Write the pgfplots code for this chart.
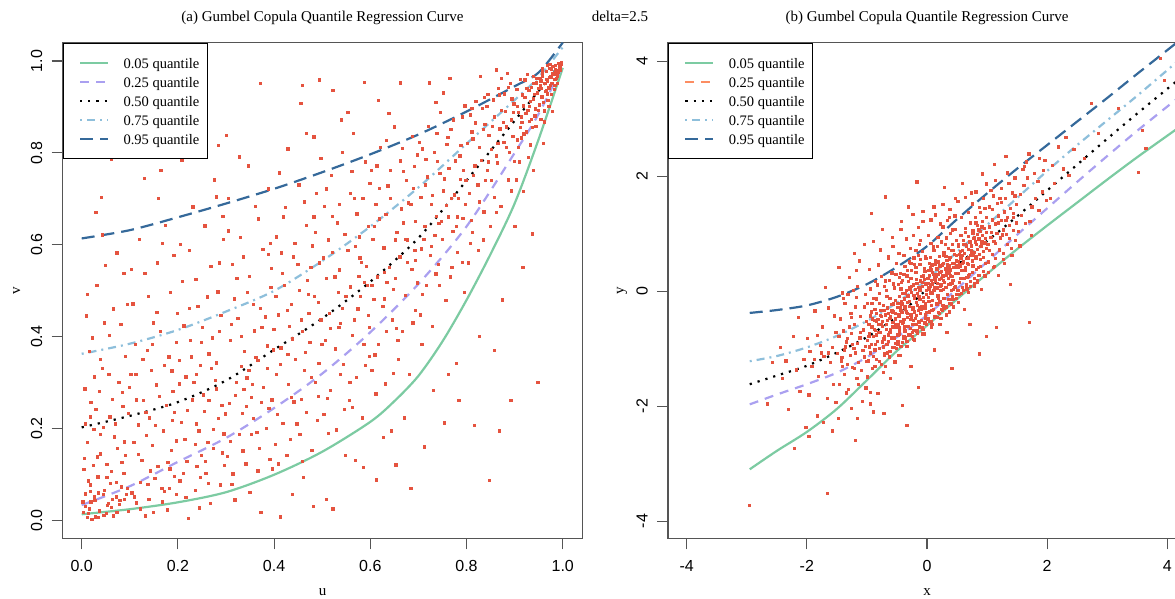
\documentclass[border=0pt]{standalone}
\usepackage{fontspec}
\setmainfont{Liberation Serif}
\newfontfamily\sansf{Liberation Sans}
\usepackage{pgfplots}
\pgfplotsset{compat=1.18}
\definecolor{cgreen}{HTML}{7CCBA2}
\definecolor{clav}{HTML}{AAA0F0}
\definecolor{cltblue}{HTML}{8EBFDB}
\definecolor{cdkblue}{HTML}{35699A}
\definecolor{corange}{HTML}{FC8D62}
\definecolor{cred}{HTML}{E5533F}
\definecolor{framegray}{HTML}{555555}
\newcommand\tfs{\fontsize{15}{18}\selectfont}
\pgfplotsset{
  qaxis/.style={
    scale only axis,
    axis line style={draw=framegray, line width=1.1pt},
    tick style={draw=framegray, line width=1.1pt},
    tick align=outside, tick pos=left, major tick length=11pt,
    tick label style={font=\sansf\fontsize{16}{18}\selectfont},
    xticklabel style={anchor=center}, xticklabel shift=16.7pt,
    yticklabel style={rotate=90, anchor=center}, yticklabel shift=15pt,
    label style={font=\tfs},
    xlabel style={at={(axis description cs:0.5,0)}, anchor=center, yshift=-53.4pt},
    ylabel style={at={(axis description cs:0,0.5)}, anchor=center, yshift=46pt},
    title style={at={(0.5,1)}, anchor=center, yshift=18.7pt, font=\tfs},
    legend cell align=left,
    legend style={at={(0,1)}, anchor=north west, draw=black, line width=0.9pt, fill=white,
      font=\fontsize{14.5}{17}\selectfont, inner xsep=8pt, inner ysep=12pt,
      row sep=4pt, column sep=14.4pt,
      nodes={inner sep=0pt, text height=13.5pt, text depth=1.5pt}},
    legend image code/.code={\path (0pt,0pt); \draw[#1] (7.8pt,0pt) -- (35.8pt,0pt);},
  },
  pts/.style={only marks, mark=square*, mark size=1.15pt, color=cred, forget plot},
  q05/.style={cgreen, line width=2.2pt, solid},
  q25/.style={clav, line width=2.2pt, dash pattern=on 9pt off 7pt},
  q25o/.style={corange, line width=2.2pt, dash pattern=on 9pt off 7pt},
  q50/.style={black, line width=2.2pt, dash pattern=on 2.2pt off 6pt},
  q75/.style={cltblue, line width=2.2pt, dash pattern=on 2pt off 5pt on 8pt off 5pt},
  q95/.style={cdkblue, line width=2.2pt, dash pattern=on 13pt off 7pt},
}
\begin{document}
\begin{tikzpicture}
\path[use as bounding box] (0pt,0pt) rectangle (1175pt,598pt);
\node[font=\tfs] at (620pt,582pt) {delta=2.5};
\begin{axis}[qaxis, at={(62.7pt,59.7pt)}, anchor=south west,
  width=519.6pt, height=495.6pt,
  xmin=-0.0395, xmax=1.0407, ymin=-0.0383, ymax=1.0398,
  xtick={0,0.2,0.4,0.6,0.8,1}, xticklabels={0.0,0.2,0.4,0.6,0.8,1.0},
  ytick={0,0.2,0.4,0.6,0.8,1}, yticklabels={0.0,0.2,0.4,0.6,0.8,1.0},
  xlabel={u}, ylabel={v},
  title={(a) Gumbel Copula Quantile Regression Curve}]
\addlegendimage{q05}
\addlegendimage{q25}
\addlegendimage{q50}
\addlegendimage{q75}
\addlegendimage{q95}
\addplot[pts] table {
0.012 0.008
0.046 0.012
0.021 0.003
0.008 0.031
0.027 0.044
0.055 0.038
0.071 0.052
0.015 0.026
0.089 0.047
0.034 0.061
0.062 0.029
0.004 0.112
0.018 0.078
0.039 0.146
0.052 0.094
0.067 0.183
0.083 0.127
0.095 0.071
0.025 0.199
0.074 0.158
0.047 0.066
0.011 0.171
0.006 0.287
0.029 0.243
0.043 0.331
0.058 0.226
0.077 0.302
0.091 0.358
0.016 0.369
0.064 0.264
0.085 0.249
0.036 0.281
0.009 0.446
0.031 0.512
0.057 0.404
0.073 0.583
0.094 0.471
0.022 0.398
0.049 0.556
0.081 0.427
0.041 0.703
0.061 0.786
0.003 0.018
0.019 0.041
0.028 0.009
0.037 0.022
0.044 0.057
0.007 0.059
0.013 0.087
0.024 0.121
0.033 0.096
0.002 0.041
0.051 0.017
0.059 0.081
0.066 0.011
0.078 0.036
0.087 0.104
0.097 0.021
0.005 0.136
0.038 0.188
0.017 0.226
0.069 0.211
0.014 0.016
0.053 0.033
0.079 0.044
0.092 0.058
0.026 0.052
0.061 0.107
0.032 0.139
0.088 0.172
0.045 0.203
0.071 0.084
0.019 0.258
0.056 0.318
0.084 0.279
0.038 0.351
0.097 0.234
0.011 0.493
0.066 0.461
0.042 0.622
0.087 0.539
0.029 0.671
0.132 0.011
0.178 0.024
0.104 0.061
0.121 0.083
0.139 0.047
0.152 0.092
0.166 0.071
0.183 0.113
0.197 0.058
0.114 0.039
0.108 0.171
0.125 0.132
0.141 0.224
0.158 0.118
0.169 0.196
0.186 0.153
0.193 0.236
0.117 0.209
0.147 0.164
0.176 0.251
0.102 0.318
0.128 0.262
0.136 0.371
0.155 0.296
0.172 0.339
0.189 0.281
0.111 0.384
0.163 0.412
0.181 0.357
0.144 0.327
0.106 0.472
0.131 0.538
0.149 0.431
0.168 0.604
0.184 0.497
0.199 0.452
0.119 0.613
0.157 0.561
0.123 0.793
0.164 0.763
0.130 0.745
0.148 0.019
0.109 0.052
0.137 0.079
0.171 0.064
0.192 0.097
0.118 0.144
0.153 0.207
0.179 0.128
0.134 0.186
0.196 0.174
0.113 0.263
0.146 0.384
0.161 0.271
0.187 0.326
0.127 0.351
0.103 0.547
0.138 0.489
0.174 0.643
0.191 0.577
0.159 0.702
0.221 0.006
0.267 0.038
0.204 0.087
0.218 0.129
0.236 0.066
0.249 0.142
0.258 0.103
0.273 0.158
0.288 0.078
0.296 0.121
0.207 0.214
0.214 0.178
0.229 0.263
0.243 0.196
0.255 0.238
0.262 0.171
0.279 0.287
0.284 0.223
0.291 0.252
0.233 0.302
0.202 0.349
0.226 0.392
0.238 0.318
0.251 0.421
0.264 0.363
0.277 0.306
0.289 0.447
0.212 0.424
0.246 0.338
0.271 0.398
0.209 0.521
0.224 0.588
0.241 0.467
0.256 0.642
0.268 0.553
0.283 0.498
0.294 0.612
0.231 0.683
0.208 0.785
0.280 0.705
0.284 0.817
0.244 0.028
0.211 0.103
0.239 0.118
0.263 0.081
0.292 0.148
0.219 0.241
0.252 0.274
0.274 0.199
0.298 0.233
0.236 0.166
0.216 0.313
0.249 0.389
0.269 0.331
0.286 0.412
0.228 0.357
0.205 0.602
0.237 0.526
0.261 0.487
0.293 0.663
0.275 0.742
0.318 0.046
0.372 0.019
0.303 0.141
0.314 0.102
0.327 0.188
0.341 0.124
0.356 0.223
0.369 0.157
0.383 0.201
0.396 0.113
0.306 0.256
0.321 0.301
0.333 0.234
0.347 0.327
0.352 0.268
0.366 0.349
0.378 0.291
0.389 0.244
0.398 0.372
0.337 0.286
0.309 0.392
0.324 0.441
0.338 0.368
0.344 0.497
0.359 0.413
0.371 0.462
0.385 0.381
0.393 0.508
0.317 0.483
0.362 0.356
0.301 0.839
0.313 0.558
0.329 0.617
0.348 0.532
0.361 0.684
0.376 0.591
0.387 0.722
0.394 0.549
0.327 0.792
0.371 0.951
0.349 0.062
0.308 0.173
0.335 0.152
0.364 0.192
0.391 0.134
0.319 0.273
0.343 0.311
0.373 0.258
0.386 0.331
0.354 0.297
0.311 0.427
0.332 0.401
0.357 0.471
0.381 0.444
0.399 0.417
0.304 0.631
0.336 0.574
0.367 0.657
0.392 0.603
0.346 0.772
0.413 0.009
0.437 0.058
0.481 0.031
0.402 0.167
0.418 0.212
0.426 0.143
0.441 0.259
0.453 0.188
0.467 0.236
0.478 0.154
0.492 0.271
0.405 0.318
0.414 0.376
0.429 0.297
0.444 0.351
0.458 0.412
0.463 0.328
0.474 0.389
0.486 0.302
0.497 0.437
0.432 0.423
0.408 0.448
0.421 0.512
0.436 0.471
0.449 0.558
0.457 0.437
0.469 0.523
0.483 0.489
0.494 0.561
0.417 0.539
0.472 0.452
0.404 0.618
0.423 0.682
0.439 0.574
0.451 0.731
0.466 0.643
0.479 0.598
0.488 0.712
0.411 0.757
0.459 0.948
0.494 0.959
0.455 0.908
0.466 0.843
0.482 0.835
0.461 0.094
0.407 0.231
0.434 0.178
0.456 0.264
0.489 0.218
0.412 0.341
0.438 0.396
0.465 0.367
0.477 0.312
0.499 0.384
0.403 0.488
0.427 0.458
0.452 0.501
0.476 0.551
0.491 0.476
0.419 0.661
0.443 0.603
0.462 0.694
0.486 0.627
0.428 0.809
0.509 0.047
0.522 0.026
0.568 0.131
0.585 0.117
0.503 0.231
0.517 0.284
0.529 0.198
0.544 0.341
0.556 0.262
0.571 0.312
0.583 0.224
0.597 0.358
0.506 0.392
0.514 0.451
0.527 0.374
0.538 0.429
0.549 0.488
0.562 0.403
0.574 0.461
0.586 0.384
0.593 0.512
0.533 0.497
0.508 0.527
0.521 0.584
0.535 0.546
0.547 0.623
0.558 0.509
0.569 0.597
0.581 0.563
0.595 0.641
0.512 0.611
0.576 0.532
0.504 0.684
0.519 0.751
0.531 0.648
0.542 0.802
0.558 0.713
0.572 0.668
0.589 0.781
0.599 0.734
0.522 0.937
0.553 0.889
0.587 0.954
0.548 0.143
0.511 0.267
0.537 0.318
0.563 0.247
0.589 0.339
0.516 0.418
0.541 0.462
0.566 0.437
0.579 0.488
0.598 0.421
0.502 0.572
0.526 0.531
0.553 0.589
0.577 0.618
0.591 0.553
0.509 0.722
0.536 0.688
0.561 0.761
0.584 0.701
0.565 0.843
0.612 0.089
0.627 0.181
0.653 0.122
0.684 0.071
0.671 0.224
0.603 0.327
0.616 0.384
0.631 0.298
0.645 0.437
0.658 0.352
0.667 0.412
0.681 0.319
0.694 0.458
0.607 0.482
0.614 0.531
0.626 0.467
0.639 0.552
0.648 0.503
0.661 0.574
0.673 0.491
0.686 0.547
0.692 0.588
0.634 0.519
0.605 0.612
0.619 0.657
0.628 0.594
0.642 0.701
0.655 0.628
0.664 0.679
0.677 0.611
0.689 0.724
0.611 0.689
0.668 0.648
0.602 0.762
0.621 0.812
0.636 0.729
0.649 0.857
0.662 0.783
0.675 0.741
0.687 0.836
0.698 0.796
0.617 0.914
0.662 0.953
0.643 0.196
0.609 0.361
0.633 0.412
0.657 0.392
0.688 0.431
0.603 0.512
0.629 0.541
0.652 0.527
0.676 0.562
0.697 0.518
0.608 0.641
0.632 0.667
0.651 0.611
0.679 0.692
0.694 0.652
0.613 0.772
0.641 0.763
0.666 0.811
0.691 0.771
0.638 0.887
0.712 0.161
0.731 0.284
0.753 0.213
0.778 0.342
0.784 0.262
0.703 0.448
0.716 0.512
0.728 0.423
0.741 0.558
0.757 0.479
0.766 0.531
0.781 0.584
0.795 0.497
0.706 0.592
0.713 0.641
0.724 0.578
0.737 0.662
0.749 0.613
0.758 0.687
0.771 0.629
0.783 0.701
0.792 0.658
0.734 0.621
0.705 0.703
0.718 0.748
0.727 0.689
0.739 0.782
0.752 0.718
0.763 0.767
0.774 0.709
0.786 0.794
0.798 0.741
0.744 0.756
0.702 0.823
0.721 0.858
0.733 0.801
0.746 0.889
0.761 0.834
0.773 0.872
0.788 0.817
0.796 0.903
0.722 0.953
0.765 0.962
0.762 0.318
0.708 0.492
0.736 0.537
0.769 0.552
0.791 0.563
0.711 0.612
0.742 0.647
0.762 0.661
0.779 0.641
0.797 0.689
0.714 0.731
0.729 0.708
0.753 0.744
0.777 0.783
0.793 0.762
0.708 0.809
0.738 0.843
0.767 0.851
0.791 0.879
0.752 0.931
0.816 0.207
0.847 0.088
0.868 0.196
0.892 0.262
0.827 0.402
0.874 0.481
0.803 0.561
0.812 0.627
0.824 0.589
0.836 0.672
0.849 0.641
0.858 0.703
0.871 0.684
0.887 0.742
0.806 0.713
0.814 0.752
0.823 0.731
0.831 0.784
0.843 0.763
0.852 0.808
0.864 0.779
0.877 0.823
0.889 0.801
0.896 0.837
0.802 0.821
0.811 0.846
0.826 0.812
0.838 0.862
0.846 0.838
0.857 0.879
0.869 0.853
0.881 0.891
0.893 0.872
0.898 0.907
0.807 0.883
0.819 0.912
0.833 0.897
0.844 0.928
0.856 0.916
0.866 0.941
0.879 0.929
0.891 0.952
0.828 0.967
0.861 0.981
0.884 0.973
0.858 0.371
0.809 0.653
0.834 0.611
0.862 0.671
0.893 0.718
0.817 0.772
0.839 0.741
0.861 0.794
0.882 0.813
0.899 0.782
0.813 0.831
0.834 0.851
0.853 0.858
0.876 0.867
0.897 0.889
0.811 0.897
0.837 0.921
0.868 0.927
0.886 0.943
0.872 0.962
0.948 0.302
0.917 0.551
0.936 0.624
0.903 0.742
0.907 0.812
0.911 0.856
0.914 0.879
0.918 0.903
0.921 0.921
0.924 0.846
0.927 0.893
0.929 0.937
0.932 0.912
0.935 0.874
0.938 0.951
0.941 0.928
0.943 0.896
0.946 0.962
0.949 0.941
0.904 0.938
0.912 0.961
0.926 0.972
0.909 0.781
0.933 0.818
0.944 0.858
0.951 0.905
0.953 0.947
0.956 0.922
0.958 0.968
0.961 0.951
0.963 0.934
0.966 0.978
0.968 0.957
0.971 0.942
0.973 0.985
0.975 0.966
0.977 0.951
0.979 0.989
0.981 0.972
0.983 0.961
0.985 0.991
0.987 0.979
0.989 0.968
0.991 0.995
0.993 0.984
0.995 0.989
0.997 0.997
0.954 0.873
0.962 0.892
0.969 0.914
0.976 0.928
0.982 0.938
0.988 0.952
0.957 0.983
0.967 0.991
0.952 0.962
0.906 0.829
0.915 0.867
0.923 0.887
0.931 0.901
0.939 0.918
0.947 0.931
0.955 0.941
0.964 0.952
0.972 0.964
0.978 0.974
0.984 0.981
0.992 0.989
0.996 0.993
0.959 0.911
0.967 0.929
0.974 0.947
0.986 0.962
0.942 0.881
0.919 0.842
0.928 0.791
0.937 0.856
0.962 0.868
0.971 0.902
0.991 0.976
0.017 0.064
0.034 0.007
0.052 0.123
0.073 0.019
0.091 0.142
0.008 0.211
0.063 0.047
0.082 0.074
0.026 0.313
0.047 0.431
0.099 0.291
0.121 0.026
0.143 0.109
0.167 0.041
0.188 0.219
0.112 0.319
0.156 0.453
0.182 0.071
0.133 0.236
0.197 0.389
0.216 0.051
0.238 0.211
0.257 0.129
0.279 0.344
0.295 0.189
0.223 0.462
0.264 0.262
0.286 0.561
0.247 0.094
0.203 0.298
0.312 0.079
0.331 0.336
0.353 0.188
0.374 0.421
0.395 0.263
0.322 0.527
0.366 0.109
0.387 0.579
0.342 0.249
0.305 0.701
0.409 0.124
0.428 0.362
0.447 0.211
0.471 0.493
0.493 0.343
0.415 0.583
0.458 0.129
0.482 0.661
0.436 0.268
0.497 0.789
0.513 0.191
0.534 0.421
0.557 0.302
0.578 0.572
0.596 0.447
0.521 0.663
0.546 0.243
0.567 0.701
0.588 0.519
0.539 0.872
0.611 0.276
0.629 0.483
0.654 0.419
0.672 0.612
0.693 0.566
0.618 0.723
0.647 0.321
0.668 0.761
0.684 0.688
0.633 0.828
0.707 0.384
0.726 0.597
0.748 0.651
0.768 0.702
0.787 0.743
0.715 0.786
0.743 0.512
0.759 0.819
0.781 0.661
0.736 0.911
0.808 0.603
0.827 0.694
0.845 0.781
0.865 0.821
0.883 0.857
0.818 0.866
0.842 0.902
0.872 0.893
0.894 0.918
0.851 0.741
0.905 0.901
0.916 0.927
0.925 0.941
0.934 0.943
0.945 0.953
0.954 0.957
0.965 0.961
0.976 0.982
0.985 0.974
0.994 0.981
0.913 0.833
0.931 0.869
0.949 0.893
0.966 0.936
0.983 0.947
0.908 0.889
0.921 0.959
0.939 0.967
0.957 0.976
0.973 0.993
0.900 0.640
0.918 0.717
0.939 0.763
0.960 0.821
0.978 0.891
};
\addplot[q05, smooth] coordinates {(0,0.014) (0.1,0.025) (0.2,0.04) (0.3,0.062) (0.4,0.1) (0.5,0.15) (0.6,0.215) (0.65,0.26) (0.7,0.315) (0.75,0.39) (0.8,0.48) (0.85,0.58) (0.9,0.69) (0.95,0.83) (1.0,0.985)};
\addplot[q25, smooth] coordinates {(0,0.034) (0.1,0.075) (0.2,0.128) (0.3,0.18) (0.4,0.245) (0.5,0.32) (0.6,0.41) (0.7,0.515) (0.8,0.64) (0.9,0.8) (0.95,0.885) (1.0,0.99)};
\addplot[q50, smooth] coordinates {(0,0.203) (0.1,0.228) (0.2,0.258) (0.3,0.305) (0.4,0.372) (0.5,0.44) (0.6,0.52) (0.7,0.615) (0.8,0.74) (0.9,0.87) (0.95,0.935) (1.0,1.0)};
\addplot[q75, smooth] coordinates {(0,0.363) (0.1,0.385) (0.2,0.415) (0.3,0.455) (0.4,0.5) (0.5,0.565) (0.6,0.64) (0.7,0.725) (0.8,0.82) (0.9,0.915) (0.95,0.965) (1.0,1.03)};
\addplot[q95, smooth] coordinates {(0,0.614) (0.1,0.632) (0.2,0.66) (0.3,0.69) (0.4,0.722) (0.5,0.758) (0.6,0.797) (0.7,0.84) (0.8,0.89) (0.9,0.945) (0.95,0.975) (1.0,1.04)};
\legend{0.05 quantile,0.25 quantile,0.50 quantile,0.75 quantile,0.95 quantile}
\end{axis}
\begin{axis}[qaxis, at={(668pt,59.7pt)}, anchor=south west,
  width=518pt, height=495.6pt,
  xmin=-4.31, xmax=4.31, ymin=-4.30, ymax=4.32,
  xtick={-4,-2,0,2,4}, xticklabels={-4,-2,0,2,4},
  ytick={-4,-2,0,2,4}, yticklabels={-4,-2,0,2,4},
  xlabel={x}, ylabel={y},
  title={(b) Gumbel Copula Quantile Regression Curve}]
\addlegendimage{q05}
\addlegendimage{q25o}
\addlegendimage{q50}
\addlegendimage{q75}
\addlegendimage{q95}
\addplot[pts] table {
-2.96 -3.73
-2.66 -1.96
-2.58 -1.24
-2.23 -0.79
-2.12 -1.74
-2.41 -1.52
-2.05 -1.18
-2.31 -2.06
-2.18 -1.37
-2.44 -0.98
-2.02 -2.37
-1.97 -1.80
-1.83 -2.17
-1.73 -2.28
-1.87 -0.34
-1.92 -1.31
-1.56 -1.62
-1.64 -1.07
-1.78 -0.94
-1.52 -0.71
-1.69 -1.41
-1.95 -1.05
-1.61 -1.24
-1.81 -1.48
-1.54 -0.43
-1.74 -0.62
-1.88 -1.19
-1.66 -1.86
-1.58 -0.98
-1.99 -0.82
-1.72 -1.13
-1.656 -3.52
-1.48 -2.21
-1.167 -2.21
-1.196 -2.59
-1.46 -1.62
-1.38 -1.45
-1.31 -1.71
-1.24 -1.33
-1.17 -1.52
-1.09 -1.38
-1.02 -1.68
-1.41 -1.31
-1.49 -1.08
-1.43 -1.21
-1.36 -0.97
-1.28 -1.12
-1.22 -0.99
-1.14 -1.24
-1.07 -1.03
-1.03 -0.96
-1.33 -1.27
-1.19 -1.07
-1.47 -0.79
-1.39 -0.69
-1.34 -0.88
-1.26 -0.73
-1.21 -0.58
-1.12 -0.81
-1.06 -0.67
-1.01 -0.52
-1.29 -0.62
-1.16 -0.91
-1.45 -0.48
-1.37 -0.21
-1.27 -0.39
-1.18 -0.11
-1.11 -0.44
-1.04 -0.27
-1.32 -0.05
-1.23 0.02
-1.206 0.66
-1.04 0.81
-1.18 0.36
-1.42 -1.15
-1.21 -1.34
-1.11 -0.72
-1.33 -0.82
-1.05 -1.14
-1.26 -0.46
-1.15 -1.62
-1.38 -1.02
-0.90 -2.10
-0.947 -1.96
-0.82 -1.78
-0.72 -2.12
-0.61 -1.52
-0.98 -1.21
-0.94 -1.07
-0.91 -1.34
-0.87 -1.02
-0.84 -1.18
-0.79 -0.99
-0.76 -1.27
-0.71 -1.09
-0.67 -0.93
-0.63 -1.14
-0.58 -0.98
-0.54 -1.23
-0.52 -0.91
-0.69 -1.31
-0.99 -0.86
-0.96 -0.74
-0.93 -0.92
-0.89 -0.79
-0.86 -0.68
-0.83 -0.87
-0.78 -0.72
-0.74 -0.61
-0.72 -0.83
-0.68 -0.57
-0.65 -0.76
-0.61 -0.66
-0.57 -0.54
-0.55 -0.81
-0.51 -0.63
-0.81 -0.58
-0.64 -0.87
-0.97 -0.57
-0.95 -0.43
-0.92 -0.61
-0.88 -0.51
-0.85 -0.38
-0.82 -0.49
-0.77 -0.33
-0.75 -0.52
-0.70 -0.41
-0.66 -0.29
-0.62 -0.47
-0.59 -0.34
-0.56 -0.22
-0.53 -0.39
-0.50 -0.28
-0.73 -0.24
-0.87 -0.31
-0.99 -0.21
-0.94 0.04
-0.90 -0.12
-0.86 0.17
-0.80 -0.04
-0.76 0.26
-0.71 0.08
-0.67 -0.09
-0.63 0.19
-0.59 0.32
-0.55 0.06
-0.52 0.29
-0.83 0.11
-0.93 1.35
-0.69 1.64
-0.78 0.72
-0.58 0.94
-0.97 -0.79
-0.91 -0.48
-0.86 -0.93
-0.81 -0.71
-0.77 -0.57
-0.74 -0.88
-0.68 -0.66
-0.64 -0.38
-0.60 -0.81
-0.57 -0.62
-0.53 -0.48
-0.51 -0.99
-0.89 -1.13
-0.79 -0.21
-0.71 -0.33
-0.62 -0.12
-0.56 0.13
-0.93 -0.36
-0.336 -2.33
-0.416 -1.98
-0.141 -1.67
-0.27 -1.31
-0.45 -1.12
-0.49 -0.88
-0.46 -0.74
-0.43 -0.96
-0.40 -0.81
-0.37 -0.69
-0.34 -0.87
-0.31 -0.76
-0.28 -0.64
-0.25 -0.79
-0.22 -0.68
-0.19 -0.57
-0.16 -0.73
-0.13 -0.62
-0.10 -0.51
-0.07 -0.66
-0.04 -0.55
-0.02 -0.47
-0.48 -0.58
-0.47 -0.43
-0.44 -0.52
-0.42 -0.37
-0.39 -0.49
-0.36 -0.31
-0.33 -0.45
-0.30 -0.26
-0.27 -0.41
-0.24 -0.29
-0.21 -0.36
-0.18 -0.19
-0.15 -0.33
-0.12 -0.14
-0.09 -0.27
-0.06 -0.11
-0.03 -0.22
-0.01 -0.06
-0.38 -0.62
-0.23 -0.51
-0.11 -0.39
-0.45 -0.28
-0.49 -0.21
-0.46 -0.09
-0.43 -0.17
-0.41 -0.04
-0.38 -0.13
-0.35 0.02
-0.32 -0.08
-0.29 0.06
-0.26 -0.02
-0.23 0.11
-0.20 0.03
-0.17 0.14
-0.14 0.07
-0.11 0.18
-0.08 0.09
-0.05 0.21
-0.02 0.13
-0.44 0.04
-0.31 0.17
-0.16 -0.04
-0.09 0.26
-0.27 0.22
-0.48 0.12
-0.45 0.31
-0.41 0.19
-0.37 0.43
-0.34 0.27
-0.30 0.51
-0.26 0.36
-0.22 0.58
-0.19 0.41
-0.15 0.63
-0.12 0.47
-0.08 0.69
-0.05 0.39
-0.02 0.57
-0.39 0.62
-0.28 0.74
-0.13 0.82
-0.236 1.335
-0.17 1.90
-0.44 1.08
-0.07 1.21
-0.48 -0.41
-0.46 -0.67
-0.42 -0.22
-0.40 -0.53
-0.37 -0.04
-0.35 -0.36
-0.32 -0.61
-0.30 -0.17
-0.28 -0.49
-0.26 0.09
-0.24 -0.31
-0.22 -0.07
-0.20 -0.47
-0.18 0.21
-0.16 -0.24
-0.14 -0.53
-0.12 0.04
-0.10 -0.31
-0.08 0.16
-0.06 -0.18
-0.04 0.34
-0.03 -0.41
-0.01 0.02
-0.46 0.24
-0.33 0.36
-0.21 0.47
-0.11 0.55
-0.39 -0.79
0.12 -1.02
0.33 -0.71
0.41 -1.34
0.21 -0.58
0.01 -0.48
0.04 -0.36
0.07 -0.52
0.10 -0.31
0.13 -0.44
0.16 -0.22
0.19 -0.37
0.22 -0.19
0.25 -0.33
0.28 -0.12
0.31 -0.27
0.34 -0.06
0.37 -0.21
0.40 0.01
0.43 -0.14
0.46 0.07
0.49 -0.05
0.02 -0.11
0.03 0.04
0.06 -0.03
0.08 0.12
0.11 0.02
0.14 0.17
0.17 0.06
0.20 0.21
0.23 0.11
0.26 0.27
0.29 0.16
0.32 0.32
0.35 0.22
0.38 0.37
0.41 0.26
0.44 0.41
0.47 0.31
0.49 0.44
0.09 -0.16
0.27 0.03
0.39 0.13
0.15 0.26
0.01 0.14
0.04 0.28
0.07 0.19
0.09 0.33
0.12 0.24
0.15 0.39
0.18 0.29
0.21 0.44
0.24 0.34
0.27 0.49
0.30 0.39
0.33 0.54
0.36 0.44
0.39 0.59
0.42 0.49
0.45 0.64
0.48 0.53
0.05 0.41
0.19 0.51
0.31 0.61
0.44 0.71
0.13 0.47
0.02 0.36
0.05 0.59
0.08 0.46
0.11 0.71
0.14 0.53
0.17 0.78
0.20 0.61
0.24 0.86
0.28 0.67
0.32 0.93
0.35 0.74
0.39 1.01
0.42 0.82
0.46 1.08
0.49 0.88
0.06 0.83
0.26 1.12
0.29 1.81
0.11 1.47
0.37 1.29
0.47 1.62
0.01 0.23
0.03 -0.17
0.05 0.08
0.07 0.37
0.09 -0.04
0.11 0.29
0.13 0.06
0.15 0.52
0.17 0.14
0.19 -0.12
0.21 0.33
0.23 0.01
0.25 0.46
0.27 0.19
0.29 0.62
0.31 0.07
0.33 0.38
0.35 0.12
0.37 0.55
0.39 0.27
0.41 0.71
0.43 0.19
0.45 0.49
0.47 0.08
0.49 0.63
0.08 -0.33
0.26 -0.24
0.42 -0.09
0.874 -1.09
0.985 -0.79
0.62 -0.31
0.71 -0.58
0.51 0.02
0.54 0.16
0.58 0.07
0.61 0.22
0.65 0.11
0.68 0.27
0.72 0.17
0.75 0.33
0.79 0.22
0.82 0.38
0.86 0.28
0.89 0.43
0.93 0.34
0.97 0.49
0.52 0.31
0.55 0.44
0.57 0.36
0.60 0.51
0.63 0.42
0.66 0.57
0.69 0.47
0.72 0.62
0.75 0.53
0.78 0.68
0.81 0.58
0.84 0.73
0.87 0.64
0.90 0.79
0.93 0.69
0.96 0.84
0.99 0.74
0.51 0.52
0.53 0.64
0.56 0.58
0.59 0.71
0.62 0.66
0.65 0.79
0.68 0.73
0.71 0.86
0.74 0.79
0.77 0.92
0.80 0.86
0.83 0.99
0.86 0.91
0.89 1.04
0.92 0.97
0.95 1.09
0.98 1.02
0.52 0.78
0.56 0.97
0.60 0.88
0.64 1.09
0.68 0.96
0.72 1.19
0.76 1.05
0.80 1.28
0.84 1.14
0.88 1.37
0.92 1.21
0.96 1.44
0.99 1.29
0.59 1.88
0.92 2.04
0.73 1.71
0.52 0.41
0.55 0.22
0.58 0.63
0.61 0.36
0.64 0.82
0.67 0.49
0.70 0.29
0.73 0.67
0.76 0.44
0.79 0.93
0.82 0.61
0.85 0.41
0.88 0.78
0.91 1.12
0.94 0.59
0.97 0.92
0.63 1.02
0.81 1.19
0.57 -0.04
0.78 0.14
1.15 -0.63
1.38 0.12
1.02 0.51
1.08 0.64
1.14 0.57
1.20 0.72
1.27 0.66
1.33 0.81
1.40 0.74
1.47 0.88
1.01 0.82
1.06 0.94
1.11 0.87
1.16 1.01
1.22 0.93
1.27 1.07
1.32 0.99
1.37 1.14
1.43 1.06
1.48 1.19
1.03 1.12
1.08 1.24
1.13 1.17
1.18 1.31
1.23 1.23
1.29 1.38
1.34 1.29
1.39 1.44
1.44 1.36
1.49 1.51
1.04 1.47
1.10 1.66
1.17 1.53
1.24 1.79
1.30 1.62
1.36 1.88
1.42 1.71
1.46 1.97
1.12 2.21
1.31 2.35
1.03 0.71
1.07 1.03
1.13 0.83
1.19 1.19
1.25 0.98
1.31 1.23
1.37 0.92
1.43 1.29
1.09 1.42
1.21 1.61
1.706 -0.54
1.52 1.04
1.57 1.32
1.63 1.18
1.69 2.39
1.655 2.25
1.93 2.10
1.74 1.47
1.80 1.62
1.86 1.41
1.92 1.73
1.98 1.58
1.55 1.69
1.61 1.84
1.67 1.97
1.78 2.05
1.84 1.91
1.96 2.28
1.59 2.12
1.71 1.22
2.18 2.51
2.05 1.62
2.12 1.88
2.27 2.13
2.36 2.02
2.44 2.47
2.31 2.68
2.08 2.19
2.727 3.27
2.85 2.74
2.61 2.31
3.185 3.176
3.52 2.07
3.64 2.48
3.58 2.80
3.95 3.67
3.886 4.05
-0.62 -0.71
-0.41 -0.55
-0.18 -0.42
0.07 -0.25
0.22 0.09
0.36 0.31
0.58 0.49
0.77 0.63
-0.84 -0.52
-0.57 -0.36
-0.33 -0.19
-0.12 0.01
0.13 0.21
0.34 0.46
0.55 0.69
0.82 0.82
-0.96 -0.97
-0.71 -0.79
-0.47 -0.63
-0.26 -0.47
-0.04 -0.29
0.18 -0.08
0.41 0.14
0.63 0.37
-0.78 -0.42
-0.53 -0.16
-0.29 0.04
-0.06 0.27
0.17 0.38
0.38 0.59
0.61 0.81
0.86 1.07
-0.66 -0.51
-0.44 -0.33
-0.21 -0.12
0.02 0.06
0.24 0.22
0.47 0.42
0.69 0.58
0.91 0.86
-0.88 -0.66
-0.61 -0.44
-0.37 -0.27
-0.14 -0.09
0.09 0.13
0.31 0.28
0.53 0.47
0.74 0.71
-0.73 -0.97
-0.49 -0.76
-0.25 -0.57
-0.01 -0.37
0.21 -0.17
0.44 0.03
0.66 0.24
0.88 0.56
-0.92 -0.21
-0.68 0.02
-0.43 0.16
-0.19 0.33
0.04 0.48
0.28 0.62
0.52 0.81
0.76 1.01
-1.83 -0.77
-1.64 -0.29
-1.52 -1.93
-1.47 0.41
-1.39 -0.12
-1.35 -1.77
-1.29 0.24
-1.24 -0.93
-1.19 -0.27
-1.13 0.53
-1.08 -1.91
-1.03 -0.06
-0.99 -1.49
-0.96 0.38
-0.92 -0.63
-0.89 0.87
-0.87 -1.31
-0.84 -0.13
-0.81 0.46
-0.79 -1.22
-0.76 -0.44
-0.74 1.08
-0.71 -1.12
-0.69 0.18
-0.66 -1.07
-0.64 0.57
-0.62 -1.05
-0.59 -0.23
-0.57 0.78
-0.55 -0.98
-0.53 -0.57
-0.51 0.49
-0.49 -0.93
-0.47 0.66
-0.45 -0.96
-0.43 1.21
-0.41 -0.89
-0.39 0.29
-0.37 -0.81
-0.35 0.91
-0.33 -0.38
-0.31 1.47
-0.29 -0.76
-0.27 0.48
-0.25 -0.72
-0.23 0.97
-0.21 -0.86
-0.19 0.71
-0.17 -0.69
-0.15 1.11
-0.13 -0.29
-0.11 0.88
-0.09 -0.63
-0.07 1.39
-0.05 -0.74
-0.03 0.61
-0.01 -0.58
0.02 0.97
0.04 -0.52
0.06 1.24
0.08 -0.57
0.10 0.77
0.12 -0.45
0.14 1.33
0.16 -0.46
0.18 0.94
0.20 -0.38
0.22 1.17
0.24 -0.31
0.26 1.51
0.28 -0.30
0.30 0.81
0.32 -0.41
0.34 1.23
0.36 -0.14
0.38 1.42
0.40 -0.22
0.42 1.07
0.44 -0.27
0.46 1.31
0.48 -0.12
0.51 1.56
0.54 -0.05
0.57 1.28
0.60 0.02
0.63 1.63
0.66 0.04
0.69 1.37
0.72 0.08
0.75 1.52
0.78 0.09
0.81 1.73
0.84 0.19
0.87 1.46
0.90 0.03
0.93 1.62
0.96 0.27
0.99 1.87
1.02 0.33
1.06 1.76
1.10 0.41
1.14 1.93
1.19 0.28
1.23 1.54
1.28 0.49
1.33 2.06
1.41 0.63
1.46 1.66
1.54 0.79
1.62 2.17
1.73 0.97
1.87 2.31
-1.97 -2.52
-1.76 -1.07
-1.58 -2.43
-1.41 -0.03
-1.26 -2.04
-1.16 0.09
-1.01 -1.22
-0.94 -1.76
-0.85 -0.76
-0.73 -1.41
-0.65 0.61
-0.48 -1.12
-0.34 -0.96
-0.22 -0.84
-0.08 -0.74
0.07 -0.63
0.23 -0.47
0.37 -0.36
0.52 -0.19
0.68 -0.02
0.83 0.16
0.97 0.27
1.12 0.43
1.27 0.56
-2.21 -2.73
-2.35 -1.21
-2.14 -0.45
-1.69 0.07
};
\addplot[q05, smooth] coordinates {(-2.95,-3.1) (-2.5,-2.78) (-2,-2.45) (-1.5,-2.05) (-1,-1.55) (-0.5,-1.04) (0,-0.6) (0.5,-0.14) (1,0.3) (1.5,0.73) (2,1.14) (2.5,1.54) (3,1.94) (3.5,2.33) (4.13,2.8) (4.4,3.0)};
\addplot[q25, smooth] coordinates {(-2.95,-1.97) (-2.5,-1.8) (-2,-1.62) (-1.5,-1.42) (-1,-1.15) (-0.5,-0.8) (0,-0.42) (0.5,0.04) (1,0.51) (1.5,0.98) (2,1.44) (2.5,1.9) (3,2.35) (3.5,2.79) (4.13,3.32) (4.4,3.55)};
\addplot[q50, smooth] coordinates {(-2.95,-1.62) (-2.5,-1.47) (-2,-1.3) (-1.5,-1.07) (-1,-0.8) (-0.5,-0.44) (0,0.03) (0.5,0.45) (1,0.87) (1.5,1.3) (2,1.75) (2.5,2.2) (3,2.65) (3.5,3.09) (4.13,3.63) (4.4,3.86)};
\addplot[q75, smooth] coordinates {(-2.95,-1.22) (-2.5,-1.13) (-2,-0.98) (-1.5,-0.78) (-1,-0.52) (-0.5,-0.2) (0,0.2) (0.5,0.68) (1,1.15) (1.5,1.62) (2,2.09) (2.5,2.54) (3,2.97) (3.5,3.4) (4.13,3.96) (4.4,4.2)};
\addplot[q95, smooth] coordinates {(-2.95,-0.38) (-2.5,-0.33) (-2,-0.25) (-1.5,-0.1) (-1,0.12) (-0.5,0.42) (0,0.78) (0.5,1.25) (1,1.7) (1.5,2.13) (2,2.54) (2.5,2.95) (3,3.36) (3.5,3.78) (4.13,4.3) (4.4,4.53)};
\legend{0.05 quantile,0.25 quantile,0.50 quantile,0.75 quantile,0.95 quantile}
\end{axis}
\end{tikzpicture}
\end{document}
